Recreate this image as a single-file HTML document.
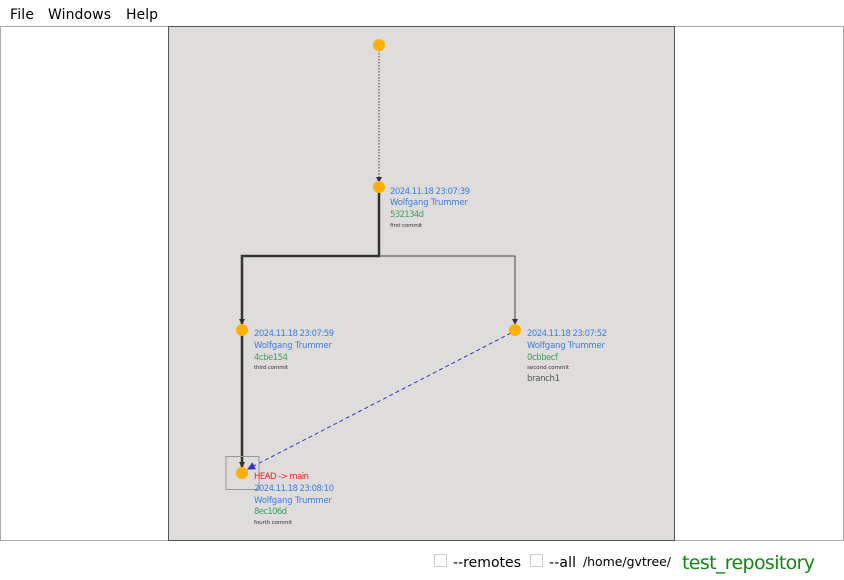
<!DOCTYPE html>
<html><head><meta charset="utf-8"><style>
body{margin:0;width:844px;height:580px;background:#fff;overflow:hidden;font-family:"DejaVu Sans","Liberation Sans",sans-serif}
svg{position:absolute;left:0;top:0}
</style></head><body>
<svg width="844" height="580" xmlns="http://www.w3.org/2000/svg" font-family="DejaVu Sans, Liberation Sans, sans-serif">
<text x="10" y="19" font-size="14" fill="#000" textLength="24">File</text>
<text x="48" y="19" font-size="14" fill="#000" textLength="63">Windows</text>
<text x="126" y="19" font-size="14" fill="#000" textLength="32">Help</text>
<rect x="0.5" y="26.5" width="843" height="514" fill="#fff" stroke="#aaa"/>
<rect x="168.5" y="26.5" width="506" height="514" fill="#dfdddb" stroke="#555"/>
<defs>
<marker id="a" markerWidth="6" markerHeight="6" refX="5" refY="3" orient="auto" markerUnits="userSpaceOnUse"><path d="M0,0L6,3L0,6z" fill="#333"/></marker>
<marker id="b" markerWidth="8" markerHeight="8" refX="7" refY="4" orient="auto" markerUnits="userSpaceOnUse"><path d="M0,0L8,4L0,8z" fill="#33c"/></marker>
</defs>
<line x1="379" y1="50" x2="379" y2="182" stroke="#444" stroke-width="1" stroke-dasharray="1.5,1.5" marker-end="url(#a)"/>
<polyline points="379,192 379,256 242,256 242,324" fill="none" stroke="#333" stroke-width="2.5" marker-end="url(#a)"/>
<polyline points="379,256 515,256 515,324" fill="none" stroke="#444" stroke-width="1" marker-end="url(#a)"/>
<line x1="242" y1="335" x2="242" y2="467" stroke="#333" stroke-width="2.5" marker-end="url(#a)"/>
<line x1="511" y1="333" x2="248" y2="469" stroke="#33c" stroke-width="1" stroke-dasharray="4,3" marker-end="url(#b)"/>
<rect x="226" y="456.5" width="33" height="33" fill="none" stroke="#999"/>
<g fill="#ffb000"><circle cx="379" cy="45" r="6"/><circle cx="379" cy="187" r="6"/><circle cx="242" cy="330" r="6"/><circle cx="515" cy="330" r="6"/><circle cx="242" cy="473" r="6"/></g>
<g font-size="8.5">
<text x="390" y="194" fill="#3a7de0" textLength="80">2024.11.18 23:07:39</text>
<text x="390" y="205" fill="#3a7de0" textLength="78">Wolfgang Trummer</text>
<text x="390" y="217" fill="#3aa060" textLength="34">532134d</text>
<text x="390" y="227" fill="#333" font-size="5.5" textLength="32">first commit</text>
<text x="254" y="336" fill="#3a7de0" textLength="80">2024.11.18 23:07:59</text>
<text x="254" y="348" fill="#3a7de0" textLength="78">Wolfgang Trummer</text>
<text x="254" y="360" fill="#3aa060" textLength="34">4cbe154</text>
<text x="254" y="369" fill="#333" font-size="5.5" textLength="34">third commit</text>
<text x="527" y="336" fill="#3a7de0" textLength="80">2024.11.18 23:07:52</text>
<text x="527" y="348" fill="#3a7de0" textLength="78">Wolfgang Trummer</text>
<text x="527" y="360" fill="#3aa060" textLength="31">0cbbecf</text>
<text x="527" y="369" fill="#333" font-size="5.5" textLength="42">second commit</text>
<text x="527" y="381" fill="#555" textLength="33">branch1</text>
<text x="254" y="479" fill="#f02020" textLength="55">HEAD -&gt; main</text>
<text x="254" y="491" fill="#3a7de0" textLength="80">2024.11.18 23:08:10</text>
<text x="254" y="503" fill="#3a7de0" textLength="78">Wolfgang Trummer</text>
<text x="254" y="514" fill="#3aa060" textLength="33">8ec106d</text>
<text x="254" y="524" fill="#333" font-size="5.5" textLength="38">fourth commit</text>
</g>
<rect x="434.5" y="554.5" width="12" height="12" fill="#fff" stroke="#ccc"/>
<text x="453" y="567" font-size="14" fill="#000" textLength="68">--remotes</text>
<rect x="530.5" y="554.5" width="12" height="12" fill="#fff" stroke="#ccc"/>
<text x="549" y="567" font-size="14" fill="#000" textLength="27">--all</text>
<text x="583" y="566" font-size="12.5" fill="#000" textLength="88">/home/gvtree/</text>
<text x="682" y="569" font-size="19" fill="#118811" textLength="133">test_repository</text>
</svg>
</body></html>
